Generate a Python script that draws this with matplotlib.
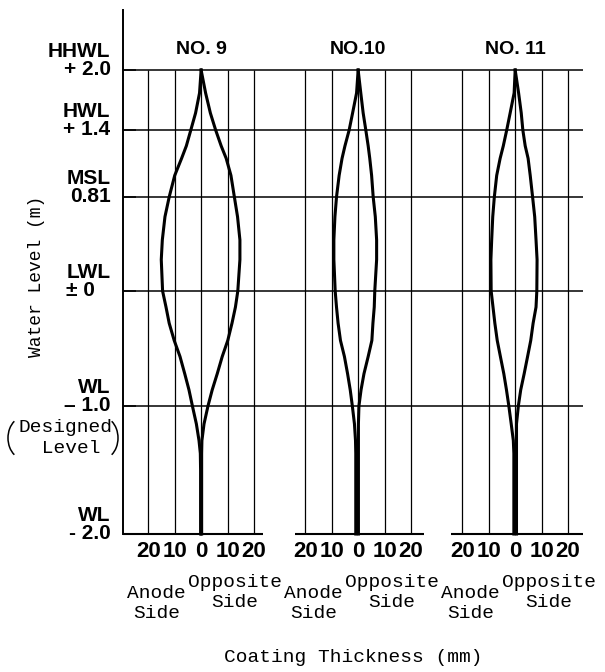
import numpy as np
import matplotlib
matplotlib.use("Agg")
import matplotlib.pyplot as plt
from matplotlib.patches import Arc

# water level (m) of every reading, top to bottom
levels = [2.0, 1.77, 1.57, 1.40, 1.26, 1.15, 1.0, 0.81, 0.64, 0.44, 0.27, 0.0,
          -0.14, -0.28, -0.43, -0.57, -0.72, -0.86, -1.0, -1.14, -1.27, -1.37,
          -1.5, -2.0]

# coating thickness (mm), anode side and opposite side
no9_anode = [0, 0.6, 2.1, 3.9, 5.6, 7.4, 10.0, 12.1, 13.7, 14.7, 15.1, 14.6,
             13.3, 12.1, 10.2, 8.0, 6.2, 4.6, 3.3, 1.8, 0.8, 0.3, 0.2, 0.2]
no9_opp = [0, 1.7, 3.5, 5.5, 7.6, 9.5, 11.3, 12.6, 13.8, 14.7, 14.7, 13.9,
           13.0, 11.7, 10.1, 8.0, 6.1, 4.2, 2.6, 1.1, 0.3, 0.2, 0.2, 0.2]
no10_anode = [0, 0.6, 2.1, 3.4, 5.0, 6.1, 7.2, 8.2, 8.8, 9.2, 9.2, 8.7,
              8.2, 7.6, 6.7, 5.2, 4.0, 3.0, 2.2, 1.4, 1.0, 0.9, 0.9, 0.9]
no10_opp = [0, 1.0, 1.9, 2.9, 3.8, 4.4, 5.1, 5.7, 6.5, 7.0, 7.0, 6.3,
            6.1, 5.6, 5.2, 3.8, 2.2, 1.1, 0.3, 0.1, 0.1, 0.1, 0.1, 0.1]
no11_anode = [0, 0.4, 1.9, 3.2, 4.5, 5.7, 7.0, 7.9, 8.5, 8.9, 9.2, 9.1,
              8.4, 7.7, 6.8, 5.6, 4.3, 3.3, 2.4, 1.5, 0.7, 0.5, 0.5, 0.5]
no11_opp = [0, 1.3, 2.3, 2.9, 3.8, 4.9, 5.7, 6.6, 7.4, 7.9, 8.3, 8.2,
            7.9, 6.8, 5.9, 4.7, 3.4, 2.1, 1.2, 0.5, 0.5, 0.5, 0.5, 0.5]

panel_names = ["NO. 9", "NO.10", "NO. 11"]
anode_series = [no9_anode, no10_anode, no11_anode]
opp_series = [no9_opp, no10_opp, no11_opp]

level_ticks = [2.0, 1.4, 0.81, 0.0, -1.0, -2.0]
level_names = ["HHWL", "HWL", "MSL", "LWL", "WL", "WL"]
level_values = ["+ 2.0", "+ 1.4", "0.81", "± 0", "– 1.0", "- 2.0"]

grid_ticks = [-20, -10, 0, 10, 20]
grid_labels = ["20", "10", "0", "10", "20"]

# layout
centers = [0.0, 59.5, 119.0]
bottom_ext = [(-29.6, 23.5), (-24.0, 25.0), (-24.5, 25.7)]
SANS = "Liberation Sans"
MONO = "Liberation Mono"

# the drawing's vertical scale is not quite uniform
scale_lv = [-2.0, -1.0, 0.0, 0.81, 1.4, 2.0, 2.6]
scale_px = [0, 128, 243, 337, 404, 464, 524]


def fwd(y):
    return np.interp(y, scale_lv, scale_px)


def inv(v):
    return np.interp(v, scale_px, scale_lv)


fig = plt.figure(figsize=(6.05, 6.72), dpi=100)
ax = fig.add_axes([123 / 605, 138 / 672, 460 / 605, 524 / 672])
ax.set_yscale("function", functions=(fwd, inv))
ax.set_xlim(-29.6, 144.7)
ax.set_ylim(-2.0, 2.6)

for s in ["top", "right", "bottom"]:
    ax.spines[s].set_visible(False)
ax.spines["left"].set_linewidth(1.4)

# horizontal level lines across all panels
ax.hlines(level_ticks[:-1], -29.6, 144.7, color="k", lw=1.1, clip_on=False)

for c, (lo, hi), name, an, op in zip(centers, bottom_ext, panel_names,
                                      anode_series, opp_series):
    ax.vlines([c + g for g in grid_ticks], -2.0, 2.0, color="k", lw=0.9)
    ax.hlines(-2.0, c + lo, c + hi, color="k", lw=1.5, clip_on=False)
    ax.plot([c - v for v in an], levels, color="k", lw=2.2,
            solid_joinstyle="round", clip_on=False)
    ax.plot([c + v for v in op], levels, color="k", lw=2.2,
            solid_joinstyle="round", clip_on=False)
    ax.annotate(name, xy=(c, 2.0), xytext=(0, 15), textcoords="offset points",
                ha="center", va="center", fontsize=14, family=SANS,
                fontweight="bold")
    ax.annotate("Anode\nSide", xy=(c - 16.9, -2.0), xytext=(0, -50),
                textcoords="offset points", ha="center", va="center",
                fontsize=14, family=MONO, linespacing=1.2)
    ax.annotate("Opposite\nSide", xy=(c + 12.8, -2.0), xytext=(0, -42),
                textcoords="offset points", ha="center", va="center",
                fontsize=14, family=MONO, linespacing=1.2)

xt = [c + g for c in centers for g in grid_ticks]
ax.set_xticks(xt, grid_labels * 3)
ax.tick_params(axis="x", length=0, pad=5, labelsize=16)
for lab in ax.get_xticklabels():
    lab.set_family(SANS)
    lab.set_fontweight("bold")

ax.set_yticks(level_ticks, [])
ax.yaxis.set_minor_locator(matplotlib.ticker.NullLocator())
ax.tick_params(axis="y", direction="in", length=9, width=1.1)

for lv, nm, val in zip(level_ticks, level_names, level_values):
    ma = "left" if nm == "LWL" else "right"
    ax.annotate(nm + "\n" + val, xy=(0, lv), xycoords=("axes fraction", "data"),
                xytext=(-9, 7), textcoords="offset points", ha="right",
                va="center", ma=ma, fontsize=15, family=SANS,
                fontweight="bold", linespacing=0.95)

# (Designed Level) note under WL -1.0
fig.text(65 / 605, 1 - 438 / 672, "Designed\n Level", ha="center", va="center",
         fontsize=14, family=MONO, linespacing=1.25)
fig.add_artist(Arc((0.24, 2.34), 0.32, 0.42, theta1=120, theta2=240,
                   transform=fig.dpi_scale_trans, color="k", lw=1.1))
fig.add_artist(Arc((1.02, 2.34), 0.32, 0.42, theta1=-60, theta2=60,
                   transform=fig.dpi_scale_trans, color="k", lw=1.1))

fig.text(37 / 605, 1 - 276 / 672, "Water Level (m)", rotation=90,
         ha="center", va="center", fontsize=13, family=MONO)
fig.text(353 / 605, 1 - 657 / 672, "Coating Thickness (mm)", ha="center",
         va="center", fontsize=14, family=MONO)

fig.savefig("out.png", dpi=100, facecolor="white")
